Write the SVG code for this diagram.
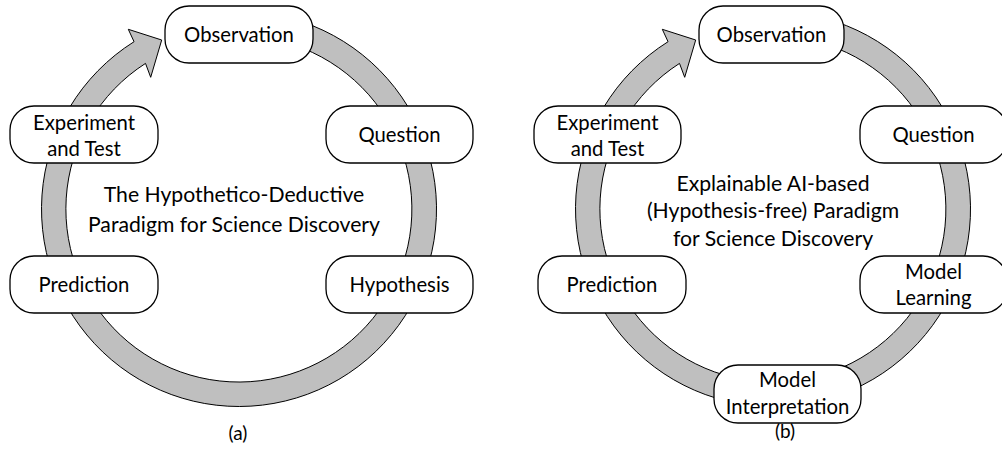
<svg xmlns="http://www.w3.org/2000/svg" width="1002" height="449" viewBox="0 0 1002 449">
<style>
.ring{fill:#bfbfbf;stroke:#000;stroke-width:1}
.node rect{fill:#fff;stroke:#000;stroke-width:1.3}
text{font-family:Lato,"Open Sans",sans-serif;fill:#000;text-anchor:middle}
.lbl{font-size:20.3px}
.ctr{font-size:21.2px}
.cap{font-size:19px}
</style>
<rect x="0" y="0" width="1002" height="449" fill="#fff"/>
<g id="connectors">
<path class="ring" d="M 256.2 12.25 A 197.5 197.5 0 1 1 134.05 41.7 L 128.3 29.3 L 161.7 40 L 150.7 77.3 L 145.5 63.4 A 173 173 0 1 0 254.1 36.7 Z"/>
<path class="ring" d="M 790.2 12.25 A 197.5 197.5 0 1 1 668.05 41.7 L 662.3 29.3 L 695.7 40 L 684.7 77.3 L 679.5 63.4 A 173 173 0 1 0 788.1 36.7 Z"/>
</g>
<g id="a-observation" class="node"><rect x="165" y="6" width="148" height="57" rx="24"/><text class="lbl" x="239" y="42">Observation</text></g>
<g id="a-experiment" class="node"><rect x="10" y="106" width="148" height="57" rx="24"/><text class="lbl" x="84" y="129.5">Experiment</text><text class="lbl" x="84" y="156">and Test</text></g>
<g id="a-question" class="node"><rect x="326" y="106" width="147" height="57" rx="24"/><text class="lbl" x="399.5" y="142">Question</text></g>
<g id="a-prediction" class="node"><rect x="10" y="256" width="148" height="57" rx="24"/><text class="lbl" x="84" y="292">Prediction</text></g>
<g id="a-hypothesis" class="node"><rect x="326" y="256" width="147" height="57" rx="24"/><text class="lbl" x="399.5" y="292">Hypothesis</text></g>
<g id="a-title"><text class="ctr" x="234" y="201.7">The Hypothetico-Deductive</text><text class="ctr" x="234" y="231.7">Paradigm for Science Discovery</text></g>
<text class="cap" x="238" y="440">(a)</text>
<g id="b-observation" class="node"><rect x="699" y="6" width="145" height="57" rx="24"/><text class="lbl" x="771.5" y="42">Observation</text></g>
<g id="b-experiment" class="node"><rect x="534" y="106" width="147" height="57" rx="24"/><text class="lbl" x="607.5" y="129.5">Experiment</text><text class="lbl" x="607.5" y="156">and Test</text></g>
<g id="b-question" class="node"><rect x="860" y="106" width="147" height="57" rx="24"/><text class="lbl" x="933.5" y="142">Question</text></g>
<g id="b-prediction" class="node"><rect x="538" y="256" width="148" height="57" rx="24"/><text class="lbl" x="612" y="292">Prediction</text></g>
<g id="b-model-learning" class="node"><rect x="860" y="256" width="147" height="57" rx="24"/><text class="lbl" x="933.5" y="279">Model</text><text class="lbl" x="933.5" y="305">Learning</text></g>
<g id="b-model-interpretation" class="node"><rect x="714" y="365" width="147" height="58" rx="24"/><text class="lbl" x="787.5" y="387">Model</text><text class="lbl" x="787.5" y="414">Interpretation</text></g>
<g id="b-title"><text class="ctr" x="773" y="190.5">Explainable AI-based</text><text class="ctr" x="773" y="218.3">(Hypothesis-free) Paradigm</text><text class="ctr" x="773" y="246">for Science Discovery</text></g>
<text class="cap" x="785" y="438">(b)</text>
</svg>
